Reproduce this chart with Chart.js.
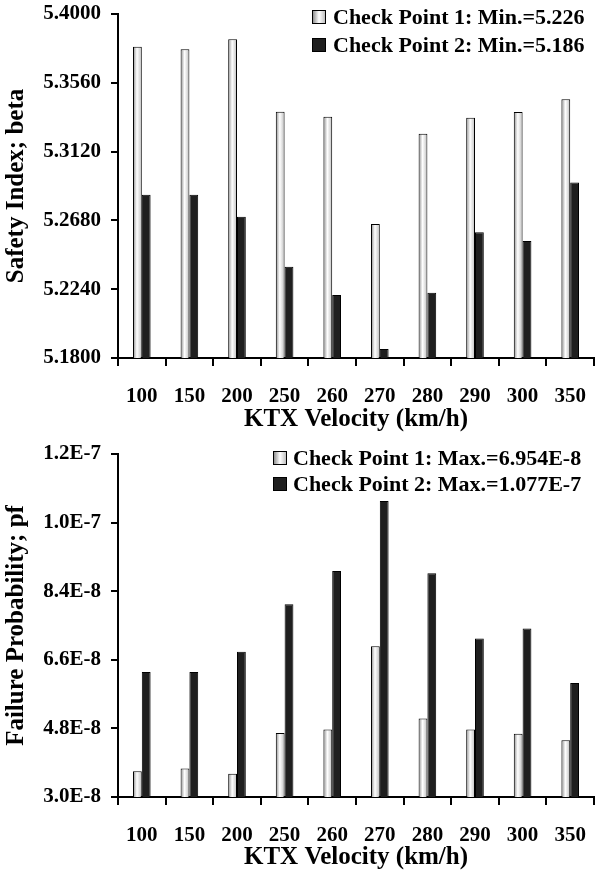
<!DOCTYPE html>
<html><head><meta charset="utf-8">
<script src="https://cdn.jsdelivr.net/npm/chart.js@4.4.1/dist/chart.umd.min.js"></script>
<style>
html,body{margin:0;padding:0;background:#fff;}
#wrap{position:relative;width:595px;height:875px;overflow:hidden;font-family:"Liberation Serif","Times New Roman",serif;font-weight:bold;}
canvas{position:absolute;left:0;}
#c1{top:0;}
#c2{top:437px;}
.lg{position:absolute;display:flex;align-items:center;font-size:22px;line-height:26px;height:26px;white-space:nowrap;color:#000;}
.box{display:inline-block;width:14px;height:14px;border:1px solid #000;box-sizing:border-box;}
.b1{background:linear-gradient(to right,#909090,#ffffff 50%,#c0c0c0);}
.b2{background:#1f1f1f;}
</style></head><body>
<div id="wrap">
<canvas id="c1" width="595" height="437" style="width:595px;height:437px"></canvas>
<canvas id="c2" width="595" height="438" style="width:595px;height:438px"></canvas>
<div class="lg" style="left:312px;top:4px"><span class="box b1" style="margin-right:7px"></span>Check Point 1: Min.=5.226</div>
<div class="lg" style="left:312px;top:32px"><span class="box b2" style="margin-right:7px"></span>Check Point 2: Min.=5.186</div>
<div class="lg" style="left:273px;top:445px"><span class="box b1" style="margin-right:6px"></span>Check Point 1: Max.=6.954E-8</div>
<div class="lg" style="left:273px;top:471px"><span class="box b2" style="margin-right:6px"></span>Check Point 2: Max.=1.077E-7</div>
</div>
<script>
const categories = ['100','150','200','250','260','270','280','290','300','350'];
const beta1 = [5.3790,5.3774,5.3838,5.3375,5.3343,5.2657,5.3234,5.3337,5.3373,5.3454];
const beta2 = [5.2844,5.2844,5.2704,5.2384,5.2203,5.1858,5.2218,5.2604,5.2548,5.2923];
const betaTicks = [5.1800,5.2240,5.2680,5.3120,5.3560,5.4000];
const betaTickLabels = ['5.1800','5.2240','5.2680','5.3120','5.3560','5.4000'];
const pf1 = [3.675e-8,3.745e-8,3.61e-8,4.68e-8,4.77e-8,6.954e-8,5.06e-8,4.77e-8,4.66e-8,4.49e-8];
const pf2 = [6.28e-8,6.28e-8,6.81e-8,8.06e-8,8.93e-8,1.077e-7,8.87e-8,7.16e-8,7.42e-8,5.99e-8];
const pfTicks = [3.0e-8,4.8e-8,6.6e-8,8.4e-8,1.02e-7,1.2e-7];
const pfTickLabels = ['3.0E-8','4.8E-8','6.6E-8','8.4E-8','1.0E-7','1.2E-7'];
const seriesNames = ['Check Point 1','Check Point 2'];

const FAMILY = "'Liberation Serif','Times New Roman',serif";
const tickFont = {family:FAMILY, size:21, weight:'bold'};
const titleFont = {family:FAMILY, size:25, weight:'bold'};

const gradPlugin = {
  id:'grad',
  beforeDatasetsDraw(chart){
    const ctx = chart.ctx;
    const meta = chart.getDatasetMeta(0);
    meta.data.forEach(el => {
      const p = el.getProps(['x','width'], true);
      const g = ctx.createLinearGradient(p.x - p.width/2, 0, p.x + p.width/2, 0);
      g.addColorStop(0,'#8c8c8c');
      g.addColorStop(0.45,'#ffffff');
      g.addColorStop(1,'#bdbdbd');
      el.options = Object.assign({}, el.options, {backgroundColor:g});
    });
  }
};

function makeChart(id, d1, d2, ticks, labels, yTitle, padTop, xH){
  return new Chart(document.getElementById(id), {
    type:'bar',
    data:{
      labels:categories,
      datasets:[
        {label:seriesNames[0], data:d1, backgroundColor:'#eeeeee', borderColor:'#000', borderWidth:1},
        {label:seriesNames[1], data:d2, backgroundColor:'#1f1f1f', borderColor:'#000', borderWidth:1}
      ]
    },
    options:{
      responsive:false,
      devicePixelRatio:1,
      animation:false,
      events:[],
      layout:{padding:{top:padTop, right:1, left:0, bottom:0}},
      datasets:{bar:{categoryPercentage:0.37, barPercentage:1.0}},
      plugins:{legend:{display:false}, tooltip:{enabled:false}},
      scales:{
        x:{
          afterFit:s=>{ s.height = xH; s.paddingLeft = 0; s.paddingRight = 0; },
          ticks:{font:tickFont, color:'#000', padding:18, maxRotation:0, autoSkip:false},
          grid:{offset:true, drawOnChartArea:false, drawTicks:true, tickLength:8, color:'#000', lineWidth:2},
          border:{display:true, color:'#000', width:2},
          title:{display:true, text:'KTX Velocity (km/h)', font:titleFont, color:'#000', padding:{top:0,bottom:2}}
        },
        y:{
          min:ticks[0], max:ticks[ticks.length-1],
          afterBuildTicks:s=>{ s.ticks = ticks.map(v=>({value:v})); },
          afterFit:s=>{ s.width = 118; s.paddingTop = 0; s.paddingBottom = 0; },
          ticks:{font:tickFont, color:'#000', padding:10, callback:(v,i)=>labels[i]},
          grid:{drawOnChartArea:false, drawTicks:true, tickLength:7, color:'#000', lineWidth:2},
          border:{display:true, color:'#000', width:2},
          title:{display:true, text:yTitle, font:titleFont, color:'#000', padding:{top:2,bottom:0}}
        }
      }
    },
    plugins:[gradPlugin]
  });
}

makeChart('c1', beta1, beta2, betaTicks, betaTickLabels, 'Safety Index; beta', 14, 79);
makeChart('c2', pf1, pf2, pfTicks, pfTickLabels, 'Failure Probability; pf', 17, 78);
</script>
</body></html>
